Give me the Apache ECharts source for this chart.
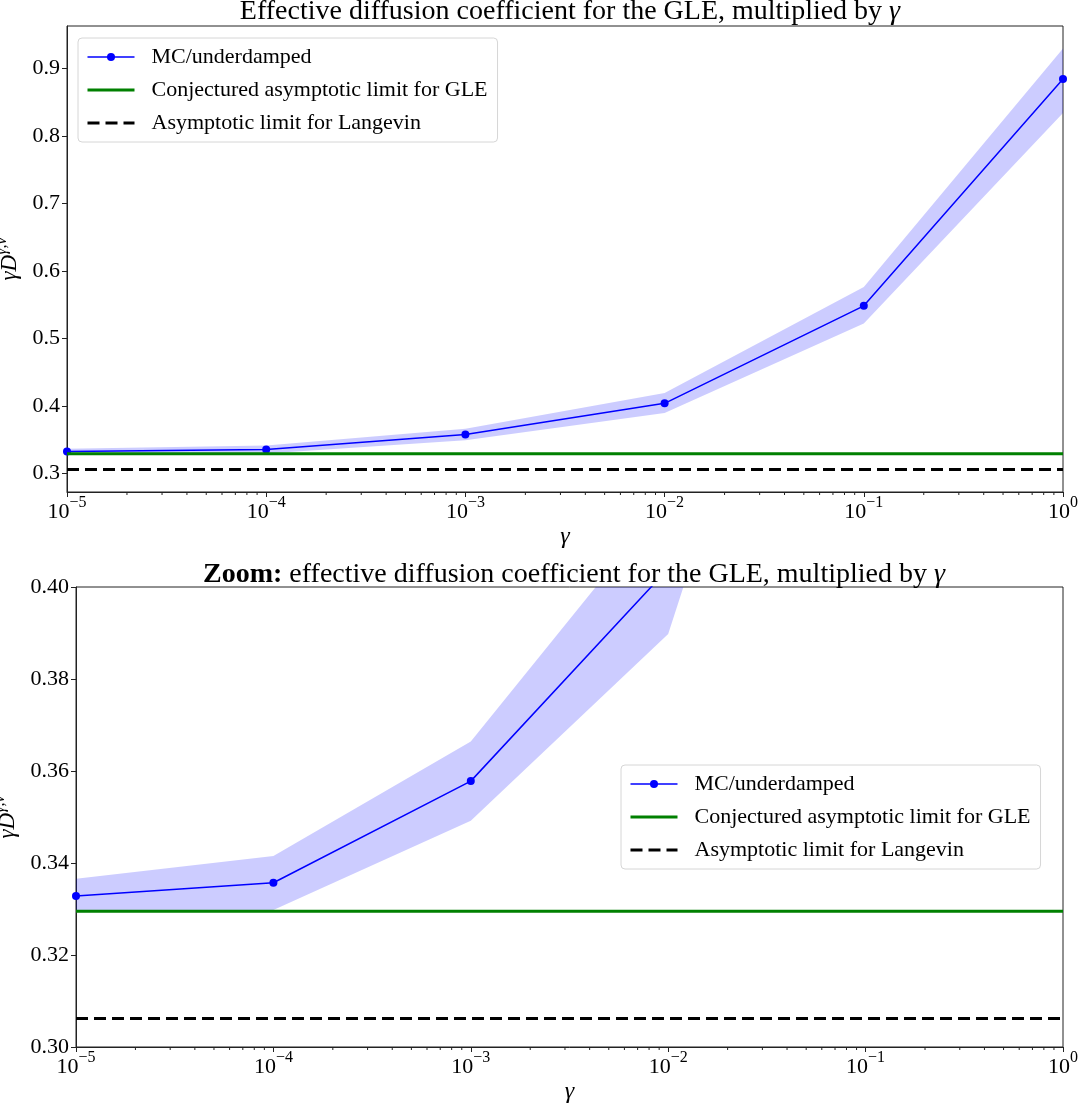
<!DOCTYPE html>
<html><head><meta charset="utf-8">
<script src="https://cdn.jsdelivr.net/npm/echarts@6/dist/echarts.min.js"></script>
<style>html,body{margin:0;padding:0;background:#fff}#chart{width:1084px;height:1104px}</style>
</head><body><div id="chart"></div>
<script>
// ---- data ----
const gammas = [1e-5, 1e-4, 1e-3, 1e-2, 1e-1, 1];
const mcMean = [0.3328, 0.3357, 0.3578, 0.4040, 0.5485, 0.8846];
const mcLower = [0.3293, 0.3298, 0.3492, 0.3898, 0.5222, 0.8342];
const mcUpper = [0.3366, 0.3415, 0.3664, 0.4195, 0.5765, 0.9296];
const gleLimit = 0.3295;
const langevinLimit = 0.3062;
const legendNames = ['MC/underdamped', 'Conjectured asymptotic limit for GLE', 'Asymptotic limit for Langevin'];
const minorTickMult = [2, 3, 4, 5, 6, 7, 8, 9];
const decades = [-5, -4, -3, -2, -1];
const topYRange = [0.2727, 0.963];
const zoomYRange = [0.30, 0.40];

const FONT = 'Liberation Serif';
const minorTicks = [];
decades.forEach(d => minorTickMult.forEach(m => minorTicks.push(m * Math.pow(10, d))));

const pairs = arr => gammas.map((g, i) => [g, arr[i]]);

const xRich = {
  b: { fontFamily: FONT, fontSize: 22, color: '#000', lineHeight: 28, verticalAlign: 'bottom' },
  e: { fontFamily: FONT, fontSize: 16, color: '#000', lineHeight: 28, verticalAlign: 'top' }
};
function xLabel(v) {
  const e = Math.round(Math.log10(v));
  return '{b|10}{e|' + (e < 0 ? '\u2212' + (-e) : e) + '}';
}
const yNameRich = {
  i: { fontFamily: FONT, fontSize: 23, fontStyle: 'italic', color: '#000', lineHeight: 28, verticalAlign: 'bottom' },
  s: { fontFamily: FONT, fontSize: 16, fontStyle: 'italic', color: '#000', lineHeight: 28, verticalAlign: 'top' }
};

function makeX(idx) {
  return {
    type: 'log', logBase: 10, gridIndex: idx, min: 1e-5, max: 1,
    name: 'γ', nameLocation: 'middle', nameGap: 33,
    nameTextStyle: { fontFamily: FONT, fontSize: 24, fontStyle: 'italic', color: '#000' },
    axisLine: { show: true, lineStyle: { color: '#222', width: 1 } },
    axisTick: { show: true, length: 5, lineStyle: { color: '#222' } },
    axisLabel: { formatter: xLabel, rich: xRich, margin: 3, color: '#000' },
    splitLine: { show: false }, minorTick: { show: false }
  };
}
function makeY(idx, range, opts) {
  return Object.assign({
    type: 'value', gridIndex: idx, min: range[0], max: range[1],
    name: '{i|γD}{s|γ,ν}', nameLocation: 'middle', nameRotate: 90,
    nameTextStyle: { rich: yNameRich, color: '#000' },
    axisLine: { show: true, lineStyle: { color: '#222', width: 1 } },
    axisTick: { show: true, length: 5, lineStyle: { color: '#222' } },
    splitLine: { show: false }
  }, opts);
}

function seriesFor(idx, yMin) {
  const base = { xAxisIndex: idx, yAxisIndex: idx, animation: false, silent: true };
  return [
    Object.assign({}, base, { type: 'custom', name: 'band' + idx, clip: true, z: 1,
      data: gammas.map((g, i) => [g, mcLower[i], mcUpper[i]]),
      renderItem: function (params, api) {
        if (params.dataIndex !== 0) return null;
        const pts = [];
        for (let i = 0; i < gammas.length; i++) pts.push(api.coord([gammas[i], mcUpper[i]]));
        for (let i = gammas.length - 1; i >= 0; i--) pts.push(api.coord([gammas[i], mcLower[i]]));
        return { type: 'polygon', shape: { points: pts }, style: { fill: 'rgba(0,0,255,0.2)', stroke: 'none' } };
      } }),
    Object.assign({}, base, { type: 'line', name: legendNames[0], data: pairs(mcMean),
      symbol: 'circle', symbolSize: 8, color: '#0000ff', itemStyle: { color: '#0000ff' },
      lineStyle: { color: '#0000ff', width: 1.5 }, z: 3, clip: true }),
    Object.assign({}, base, { type: 'line', name: legendNames[1], data: gammas.map(g => [g, gleLimit]),
      symbol: 'none', color: '#008000', lineStyle: { color: '#008000', width: 3 }, z: 4, clip: true }),
    Object.assign({}, base, { type: 'line', name: legendNames[2], data: gammas.map(g => [g, langevinLimit]),
      symbol: 'none', color: '#000000', lineStyle: { color: '#000000', width: 3, type: [12, 6] }, z: 5, clip: true }),
    Object.assign({}, base, { type: 'custom', name: 'minor' + idx, data: minorTicks.map(v => [v]), z: 6,
      renderItem: function (params, api) {
        const p = api.coord([api.value(0), yMin]);
        return { type: 'line', shape: { x1: p[0], y1: p[1], x2: p[0], y2: p[1] + 3 },
          style: { stroke: '#222', lineWidth: 1 } };
      } })
  ];
}

function legendAt(left, top) {
  return {
    data: [
      { name: legendNames[0], lineStyle: { width: 1.5 } },
      { name: legendNames[1], itemStyle: { opacity: 0 }, lineStyle: { width: 3 } },
      { name: legendNames[2], itemStyle: { opacity: 0 }, lineStyle: { width: 3, type: [12, 6] } }
    ],
    left: left, top: top, orient: 'vertical',
    padding: [7, 10, 7, 8], itemWidth: 47, itemHeight: 10, itemGap: 9,
    textStyle: { fontFamily: FONT, fontSize: 22, color: '#000', lineHeight: 24, padding: [0, 0, 0, 12] },
    backgroundColor: 'rgba(255,255,255,0.8)', borderColor: '#d6d6d6', borderWidth: 1, borderRadius: 4,
    selectedMode: false
  };
}

const option = {
  backgroundColor: '#fff',
  animation: false,
  title: [
    { text: 'Effective diffusion coefficient for the GLE, multiplied by {i|γ}', left: 565, top: -7, textAlign: 'center',
      textStyle: { fontFamily: FONT, fontSize: 28, fontWeight: 'normal', color: '#000',
        rich: { i: { fontFamily: FONT, fontSize: 28, fontStyle: 'italic', color: '#000' } } } },
    { text: '{b|Zoom:} effective diffusion coefficient for the GLE, multiplied by {i|γ}', left: 569, top: 556, textAlign: 'center',
      textStyle: { fontFamily: FONT, fontSize: 28, fontWeight: 'normal', color: '#000',
        rich: { b: { fontFamily: FONT, fontSize: 28, fontWeight: 'bold', color: '#000' },
                i: { fontFamily: FONT, fontSize: 28, fontStyle: 'italic', color: '#000' } } } }
  ],
  grid: [
    { left: 67, right: 21, top: 26, height: 466, show: true, borderColor: '#222', borderWidth: 1, backgroundColor: 'transparent', containLabel: false, outerBoundsMode: 'none' },
    { left: 76, right: 21, top: 587, height: 460, show: true, borderColor: '#222', borderWidth: 1, backgroundColor: 'transparent', containLabel: false, outerBoundsMode: 'none' }
  ],
  legend: [legendAt(78, 38), legendAt(621, 765)],
  xAxis: [makeX(0), makeX(1)],
  yAxis: [
    makeY(0, topYRange, { nameGap: 42, minInterval: 0.1, maxInterval: 0.1,
      axisLabel: { fontFamily: FONT, fontSize: 22, color: '#000', margin: 7, showMinLabel: false, showMaxLabel: false,
        formatter: v => (Math.abs(v * 10 - Math.round(v * 10)) < 1e-6 ? v.toFixed(1) : '') } }),
    makeY(1, zoomYRange, { nameGap: 51, interval: 0.02,
      axisLabel: { fontFamily: FONT, fontSize: 22, color: '#000', margin: 7, formatter: v => v.toFixed(2) } })
  ],
  series: seriesFor(0, topYRange[0]).concat(seriesFor(1, zoomYRange[0]))
};
const chart = echarts.init(document.getElementById('chart'));
chart.setOption(option);
</script></body></html>
